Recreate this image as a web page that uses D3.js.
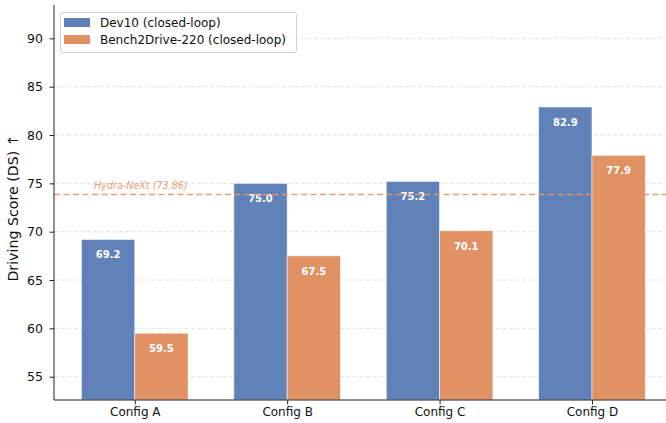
<!DOCTYPE html>
<html><head><meta charset="utf-8">
<script src="https://cdn.jsdelivr.net/npm/d3@7/dist/d3.min.js"></script>
<style>body{margin:0;background:#fff}svg{display:block;font-family:"DejaVu Sans",sans-serif}</style>
</head><body><svg id="c" width="666" height="423"></svg>
<script>
const categories = ["Config A","Config B","Config C","Config D"];
const dev10 = [69.2, 75.0, 75.2, 82.9];
const bench = [59.5, 67.5, 70.1, 77.9];
const seriesNames = ["Dev10 (closed-loop)","Bench2Drive-220 (closed-loop)"];
const yTicks = [55,60,65,70,75,80,85,90];
const refValue = 73.86;
const refLabel = "Hydra-NeXt (73.86)";

const svg = d3.select("#c");
const L = 54, R = 666, T = 5, B = 400;
const x = d3.scaleLinear().domain([-0.53, 4.02]).range([L, L + 152.4*4.55]);
const y = d3.scaleLinear().domain([52.59, 93.45]).range([B, T]);
const bw = 0.35;
const colors = ["#6082b9", "#e09265"];

// grid
svg.append("g").selectAll("line").data(yTicks).join("line")
  .attr("x1", L).attr("x2", R).attr("y1", d=>y(d)).attr("y2", d=>y(d))
  .attr("stroke", "#d9d9d9").attr("stroke-width", 0.8).attr("stroke-dasharray", "4,2.5");

const series = [dev10, bench];
series.forEach((vals, si) => {
  const g = svg.append("g");
  g.selectAll("rect").data(vals).join("rect")
    .attr("x", (d,i)=>x(i + (si===0 ? -bw : 0)))
    .attr("width", x(bw) - x(0))
    .attr("y", d=>y(d))
    .attr("height", d=>B - y(d))
    .attr("fill", colors[si])
    .attr("stroke", "#ffffff").attr("stroke-opacity", 0.7).attr("stroke-width", 0.8);
  g.selectAll("text").data(vals).join("text")
    .attr("x", (d,i)=>x(i + (si===0 ? -bw/2 : bw/2)))
    .attr("y", d=>y(d) + 19)
    .attr("text-anchor", "middle").attr("fill", "#fff")
    .attr("font-size", 10).attr("font-weight", "bold")
    .text(d=>d.toFixed(1));
});

// reference line
svg.append("line").attr("x1", L).attr("x2", R).attr("y1", y(refValue)).attr("y2", y(refValue))
  .attr("stroke", "#e9936a").attr("stroke-opacity", 0.9).attr("stroke-width", 1.5).attr("stroke-dasharray", "6,3.5");
svg.append("text").attr("x", 94).attr("y", y(refValue) - 5)
  .attr("font-size", 9.6).attr("font-style", "italic").attr("fill", "#eaa07e")
  .text(refLabel);

// axes
const ya = svg.append("g").attr("transform", `translate(${L},0)`)
  .call(d3.axisLeft(y).tickValues(yTicks).tickSize(4.5).tickPadding(6.5));
const xa = svg.append("g").attr("transform", `translate(0,${B})`)
  .call(d3.axisBottom(x).tickValues(d3.range(categories.length)).tickFormat(i=>categories[i]).tickSize(4.5).tickPadding(3));
[ya, xa].forEach(a => {
  a.select(".domain").attr("stroke", "#222").attr("stroke-width", 1);
  a.selectAll(".tick line").attr("stroke", "#222");
  a.selectAll(".tick text").attr("fill", "#111").attr("font-size", 12.5).attr("font-family", "DejaVu Sans");
});
xa.selectAll(".tick text").attr("font-size", 12);
xa.select(".domain").attr("d", `M${L},0H${R}`);
ya.select(".domain").attr("d", `M0,${T}V${B}`);

svg.append("text").attr("transform", `translate(18,208) rotate(-90)`)
  .attr("text-anchor", "middle").attr("font-size", 14.2).attr("fill", "#111")
  .text("Driving Score (DS) ↑");

// legend
const lg = svg.append("g");
lg.append("rect").attr("x", 60.5).attr("y", 12.5).attr("width", 236).attr("height", 40)
  .attr("rx", 2.5).attr("fill", "#fff").attr("fill-opacity", 0.8).attr("stroke", "#d0d0d0");
seriesNames.forEach((n, i) => {
  lg.append("rect").attr("x", 64).attr("y", 18 + i*17).attr("width", 26).attr("height", 9)
    .attr("fill", colors[i]);
  lg.append("text").attr("x", 100).attr("y", 27 + i*17).attr("font-size", 12).attr("fill", "#111").text(n);
});
</script></body></html>
